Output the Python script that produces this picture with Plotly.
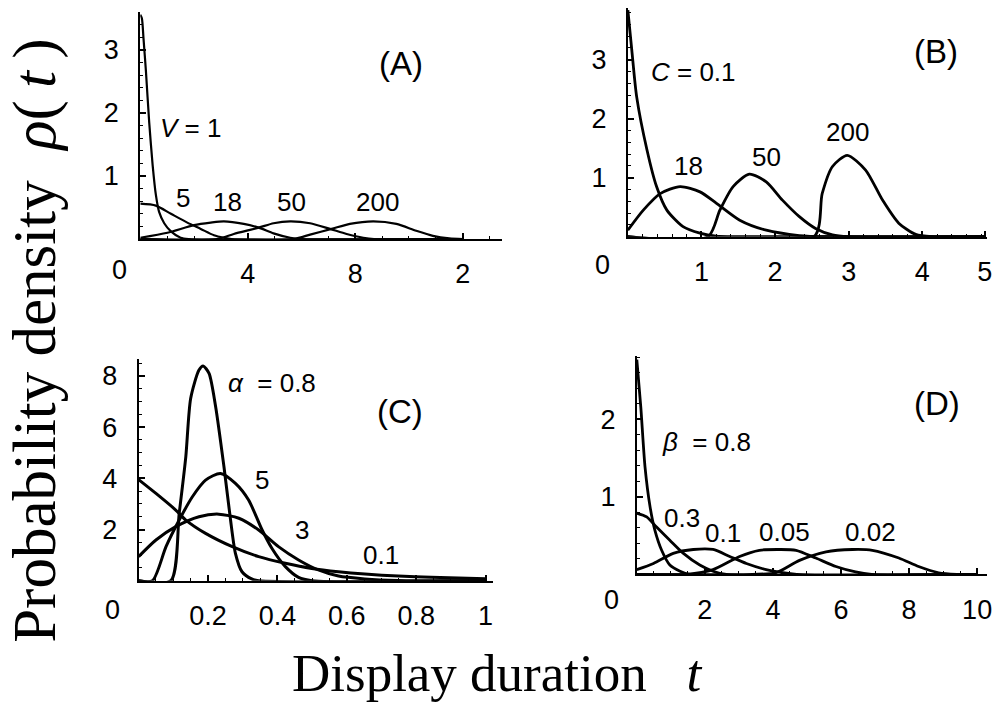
import plotly.graph_objects as go

# ---------------- data ----------------
# Panel A : parameter V
A_V1_x = [0, 0.06, 0.12, 0.21, 0.33, 0.46, 0.58, 0.70, 0.89, 1.14, 1.5, 1.8, 12]
A_V1_y = [3.56, 3.5, 3.18, 2.66, 1.86, 1.17, 0.70, 0.43, 0.25, 0.12, 0.02, 0, 0]
A_V5_x = [0, 0.58, 1.14, 1.75, 2.25, 2.74, 3.11, 3.4, 12]
A_V5_y = [0.56, 0.53, 0.40, 0.26, 0.16, 0.06, 0.02, 0, 0]
A_V18_x = [0, 1.01, 2.0, 2.62, 3.11, 3.85, 4.41, 4.96, 5.58, 6.0, 12]
A_V18_y = [0.02, 0.10, 0.22, 0.26, 0.28, 0.24, 0.18, 0.09, 0.02, 0, 0]
A_V50_x = [0, 2.86, 3.48, 4.41, 4.96, 5.58, 6.32, 7.06, 7.68, 8.3, 8.7, 12]
A_V50_y = [0, 0, 0.08, 0.18, 0.25, 0.28, 0.25, 0.16, 0.08, 0.02, 0, 0]
A_V200_x = [0, 5.7, 6.32, 7.12, 7.8, 8.67, 9.53, 10.27, 10.89, 11.5, 12]
A_V200_y = [0, 0, 0.07, 0.16, 0.24, 0.28, 0.24, 0.13, 0.05, 0.01, 0]

# Panel B : parameter C
B_C01_x = [0, 0.054, 0.12, 0.26, 0.39, 0.53, 0.75, 0.98, 1.2, 1.5, 4.85]
B_C01_y = [3.84, 3.16, 2.37, 1.47, 0.85, 0.45, 0.17, 0.06, 0.01, 0, 0]
B_C18_x = [0, 0.21, 0.44, 0.71, 0.98, 1.2, 1.52, 1.88, 2.33, 2.7, 4.85]
B_C18_y = [0.11, 0.45, 0.73, 0.85, 0.76, 0.57, 0.28, 0.11, 0.02, 0, 0]
B_C50_x = [0, 1.09, 1.25, 1.43, 1.65, 1.88, 2.1, 2.33, 2.55, 2.78, 3.0, 4.85]
B_C50_y = [0, 0, 0.45, 0.85, 1.06, 0.93, 0.62, 0.34, 0.14, 0.03, 0, 0]
B_C200_x = [0, 2.53, 2.64, 2.78, 2.98, 3.23, 3.46, 3.68, 3.91, 4.13, 4.85]
B_C200_y = [0, 0, 0.73, 1.19, 1.38, 1.13, 0.62, 0.23, 0.04, 0, 0]

# Panel C : parameter alpha
C_a08_x = [0, 0.093, 0.117, 0.136, 0.150, 0.174, 0.186, 0.203, 0.222, 0.246, 0.265, 0.279, 0.298, 0.326, 0.346, 1.0]
C_a08_y = [0, 0, 2.63, 4.84, 7.12, 8.23, 8.39, 8.1, 6.8, 4.45, 2.37, 1.07, 0.35, 0.07, 0, 0]
C_a5_x = [0, 0.040, 0.079, 0.117, 0.155, 0.193, 0.236, 0.279, 0.317, 0.356, 0.384, 0.423, 0.461, 0.5, 1.0]
C_a5_y = [0, 0, 1.33, 2.37, 3.28, 3.93, 4.19, 3.8, 3.15, 1.98, 1.27, 0.55, 0.13, 0, 0]
C_a3_x = [0, 0.05, 0.107, 0.174, 0.231, 0.289, 0.346, 0.403, 0.461, 0.518, 0.576, 0.652, 0.748, 1.0]
C_a3_y = [0.94, 1.59, 2.11, 2.5, 2.6, 2.44, 1.98, 1.33, 0.81, 0.42, 0.18, 0.07, 0.01, 0]
C_a01_x = [0, 0.05, 0.107, 0.136, 0.193, 0.27, 0.346, 0.423, 0.499, 0.576, 0.652, 0.748, 0.843, 1.0]
C_a01_y = [3.95, 3.41, 2.76, 2.37, 1.85, 1.33, 0.94, 0.68, 0.48, 0.35, 0.26, 0.18, 0.13, 0.08]

# Panel D : parameter beta
D_b08_x = [0, 0.117, 0.24, 0.39, 0.53, 0.73, 0.97, 1.27, 1.56, 10]
D_b08_y = [2.77, 2.16, 1.39, 0.87, 0.57, 0.31, 0.12, 0.04, 0, 0]
D_b03_x = [0, 0.29, 0.58, 0.97, 1.37, 1.85, 2.24, 2.63, 10]
D_b03_y = [0.79, 0.74, 0.61, 0.44, 0.27, 0.12, 0.04, 0, 0]
D_b01_x = [0, 0.49, 1.07, 1.66, 2.24, 2.73, 3.22, 3.8, 4.29, 4.7, 10]
D_b01_y = [0.06, 0.14, 0.27, 0.32, 0.32, 0.23, 0.14, 0.06, 0.02, 0, 0]
D_b005_x = [0, 1.46, 2.24, 3.02, 3.6, 4.19, 4.68, 5.26, 5.85, 6.43, 6.9, 10]
D_b005_y = [0, 0, 0.06, 0.23, 0.31, 0.32, 0.31, 0.21, 0.10, 0.03, 0, 0]
D_b002_x = [0, 3.4, 4.09, 4.78, 5.56, 6.34, 6.92, 7.7, 8.28, 8.87, 9.4, 10]
D_b002_y = [0, 0, 0.02, 0.18, 0.29, 0.32, 0.31, 0.21, 0.10, 0.02, 0, 0]

# tick labels (as printed in the picture)
A_xticks, A_xtext = [4, 8, 12], ["4", "8", "2"]
A_yticks = [1, 2, 3]
B_xticks, B_xtext = [1, 2, 3, 4, 4.85], ["1", "2", "3", "4", "5"]
B_yticks = [1, 2, 3]
C_xticks = [0.2, 0.4, 0.6, 0.8, 1.0]
C_xtext = ["0.2", "0.4", "0.6", "0.8", "1"]
C_yticks = [2, 4, 6, 8]
D_xticks = [2, 4, 6, 8, 10]
D_yticks = [1, 2]

# curve labels: (panel, x, y, text, size)
labels = [
    (1, 9.71, 2.79, "(A)", 33), (1, 1.85, 1.76, "<i>V</i> = 1", 26),
    (1, 1.59, 0.65, "5", 26), (1, 3.23, 0.58, "18", 26),
    (1, 5.64, 0.58, "50", 26), (1, 8.83, 0.58, "200", 26),
    (2, 4.18, 3.14, "(B)", 33), (2, 0.89, 2.8, "<i>C</i> = 0.1", 26),
    (2, 0.82, 1.19, "18", 26), (2, 1.89, 1.355, "50", 26), (2, 2.98, 1.78, "200", 26),
    (3, 0.752, 6.6, "(C)", 33), (3, 0.384, 7.71, "<i>α</i>\u00a0 = 0.8", 26),
    (3, 0.356, 3.93, "5", 26), (3, 0.472, 1.98, "3", 26), (3, 0.70, 1.0, "0.1", 26),
    (4, 8.82, 2.2, "(D)", 33), (4, 2.05, 1.71, "<i>β</i>\u00a0 = 0.8", 26),
    (4, 1.32, 0.72, "0.3", 26), (4, 2.53, 0.53, "0.1", 26),
    (4, 4.34, 0.55, "0.05", 26), (4, 6.87, 0.55, "0.02", 26),
]

# ---------------- figure ----------------
W, H = 1003, 705
fig = go.Figure()

panels = {
    1: [(A_V1_x, A_V1_y, 2.2), (A_V5_x, A_V5_y, 2.2), (A_V18_x, A_V18_y, 2.2),
        (A_V50_x, A_V50_y, 2.2), (A_V200_x, A_V200_y, 2.2)],
    2: [(B_C01_x, B_C01_y, 2.8), (B_C18_x, B_C18_y, 2.8), (B_C50_x, B_C50_y, 2.8),
        (B_C200_x, B_C200_y, 2.8)],
    3: [(C_a08_x, C_a08_y, 3), (C_a5_x, C_a5_y, 3), (C_a3_x, C_a3_y, 3), (C_a01_x, C_a01_y, 3)],
    4: [(D_b08_x, D_b08_y, 2.8), (D_b03_x, D_b03_y, 2.8), (D_b01_x, D_b01_y, 2.8),
        (D_b005_x, D_b005_y, 2.8), (D_b002_x, D_b002_y, 2.8)],
}
for p, curves in panels.items():
    sfx = "" if p == 1 else str(p)
    for xs, ys, w in curves:
        fig.add_trace(go.Scatter(x=xs, y=ys, mode="lines", xaxis="x" + sfx, yaxis="y" + sfx,
                                 line=dict(color="black", width=w, shape="spline", smoothing=0.7),
                                 showlegend=False, hoverinfo="skip"))

# pixel geometry of each panel: left, right, bottom, top (px), x range, y range
geom = {
    1: dict(l=141, r=505, b=239, t=12.2, xr=[0, 13.48], yr=[0, 3.6]),
    2: dict(l=631, r=992, b=236.7, t=8.4, xr=[0, 4.88], yr=[0, 3.87]),
    3: dict(l=139.3, r=495, b=580.7, t=359.3, xr=[0, 1.02], yr=[0, 8.65]),
    4: dict(l=640, r=991.6, b=574.3, t=355.7, xr=[0, 10.28], yr=[0, 2.82]),
}
xt = {1: (A_xticks, A_xtext, 1), 2: (B_xticks, B_xtext, 0.2),
      3: (C_xticks, C_xtext, 0.05), 4: (D_xticks, [str(v) for v in D_xticks], 0.5)}
yt = {1: (A_yticks, 0.2), 2: (B_yticks, 0.2), 3: (C_yticks, 0.5), 4: (D_yticks, 0.2)}

tickfont = dict(family="Liberation Sans, Arial, sans-serif", size=27, color="black")
layout = {}
for p, g in geom.items():
    sfx = "" if p == 1 else str(p)
    common = dict(showline=True, linecolor="black", linewidth=2, showgrid=False, zeroline=False,
                  ticks="inside", ticklen=6, tickwidth=1.5, tickcolor="black", tickfont=tickfont,
                  fixedrange=True)
    xv, xtx, xminor = xt[p]
    layout["xaxis" + sfx] = dict(common, domain=[g["l"] / W, g["r"] / W], range=g["xr"],
                                 anchor="y" + sfx, tickmode="array", tickvals=xv, ticktext=xtx,
                                 ticklabelstandoff=10,
                                 minor=dict(ticks="inside", ticklen=3, tickwidth=1, tickcolor="black",
                                            tickmode="linear", tick0=0, dtick=xminor, showgrid=False))
    yv, yminor = yt[p]
    layout["yaxis" + sfx] = dict(common, domain=[(H - g["b"]) / H, (H - g["t"]) / H], range=g["yr"],
                                 anchor="x" + sfx, tickmode="array", tickvals=yv,
                                 ticktext=[str(v) for v in yv], ticklabelstandoff=14,
                                 minor=dict(ticks="inside", ticklen=3, tickwidth=1, tickcolor="black",
                                            tickmode="linear", tick0=0, dtick=yminor, showgrid=False))

annotations = []
zero_shift = {1: (-21, -31), 2: (-25, -28), 3: (-26, -29), 4: (-25, -26)}
for p in geom:
    sfx = "" if p == 1 else str(p)
    dx, dy = zero_shift[p]
    annotations.append(dict(x=0, y=0, xref="x" + sfx, yref="y" + sfx, text="0", showarrow=False,
                            xanchor="center", yanchor="middle", xshift=dx, yshift=dy, font=tickfont))
for p, x, y, txt, fs in labels:
    sfx = "" if p == 1 else str(p)
    annotations.append(dict(x=x, y=y, xref="x" + sfx, yref="y" + sfx, text=txt, showarrow=False,
                            xanchor="center", yanchor="middle",
                            font=dict(family="Liberation Sans, Arial, sans-serif", size=fs, color="black")))

serif = "Liberation Serif, Times New Roman, serif"
annotations.append(dict(x=35 / W, y=(H - 341) / H, xref="paper", yref="paper",
                        text="Probability density\u00a0 <i>ρ</i>(\u2009<i>t</i>\u2009)",
                        textangle=-90, showarrow=False, xanchor="center", yanchor="middle",
                        font=dict(family=serif, size=61, color="black")))
annotations.append(dict(x=500 / W, y=(H - 673) / H, xref="paper", yref="paper",
                        text="Display duration\u00a0\u00a0 <i>t</i>", showarrow=False,
                        xanchor="center", yanchor="middle",
                        font=dict(family=serif, size=53, color="black")))

fig.update_layout(width=W, height=H, margin=dict(l=0, r=0, t=0, b=0),
                  paper_bgcolor="white", plot_bgcolor="white", showlegend=False,
                  annotations=annotations, **layout)

fig.write_html("out.html", config={"displayModeBar": False},
               post_script="document.body.style.margin='0px';document.body.style.overflow='hidden';")
